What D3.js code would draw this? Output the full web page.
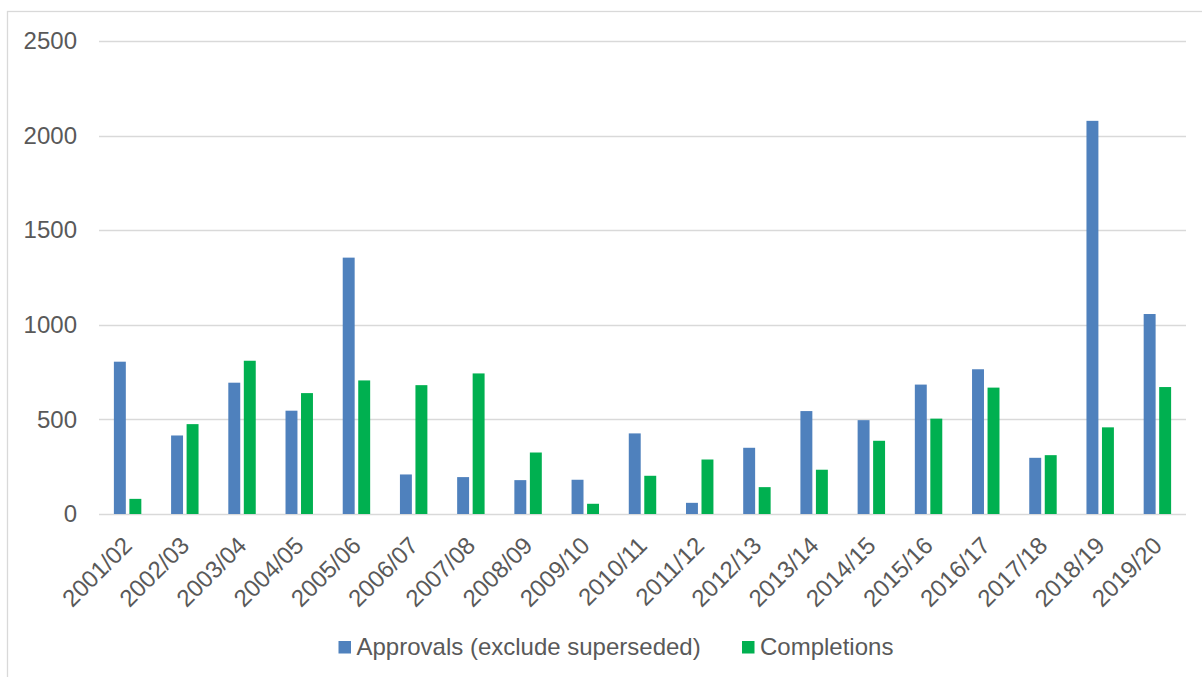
<!DOCTYPE html>
<html>
<head>
<meta charset="utf-8">
<script src="https://cdn.jsdelivr.net/npm/d3@7"></script>
<style>
  body { margin: 0; background: #fff; }
  svg { display: block; font-family: "Liberation Sans", Arial, sans-serif; }
</style>
</head>
<body>
<svg id="chart" width="1202" height="677"></svg>
<script>
let years = ["2001/02", "2002/03", "2003/04", "2004/05", "2005/06", "2006/07", "2007/08",
  "2008/09", "2009/10", "2010/11", "2011/12", "2012/13", "2013/14", "2014/15",
  "2015/16", "2016/17", "2017/18", "2018/19", "2019/20"];
let approvals = [805, 415, 694, 546, 1355, 209, 195, 179, 181, 426, 59, 350, 544, 496, 684, 765, 297, 2078, 1057];
let completions = [80, 475, 810, 639, 706, 681, 743, 325, 54, 202, 288, 142, 234, 387, 504, 668, 311, 458, 671];
let seriesNames = ["Approvals (exclude superseded)", "Completions"];
let yTicks = [0, 500, 1000, 1500, 2000, 2500];

let svg = d3.select("#chart"),
    margin = { top: 41, right: 16, bottom: 163, left: 99 },
    width = +svg.attr("width") - margin.left - margin.right,
    height = +svg.attr("height") - margin.top - margin.bottom;

// chart area border (runs off right and bottom edge like the original)
svg.append("rect")
    .attr("x", 7.5).attr("y", 11.5)
    .attr("width", 1300).attr("height", 800)
    .attr("fill", "none")
    .attr("stroke", "#d9d9d9")
    .attr("stroke-width", 1.3);

let g = svg.append("g").attr("transform", "translate(" + margin.left + "," + margin.top + ")");

let data = years.map(function(y, i) { return { year: y, values: [approvals[i], completions[i]] }; });

let x0 = d3.scaleBand().domain(years).range([0, width]);
let x1 = d3.scaleBand().domain([0, 1]).range([0, x0.bandwidth()])
    .paddingInner(0.23).paddingOuter(0.96);
let y = d3.scaleLinear().domain([0, 2500]).range([height, 0]);
let color = d3.scaleOrdinal().domain([0, 1]).range(["#4f81bd", "#00b050"]);

// gridlines
g.append("g")
  .selectAll("line")
  .data(yTicks)
  .enter().append("line")
    .attr("x1", 0).attr("x2", width)
    .attr("y1", function(d) { return Math.round(y(d)) + 0.5; })
    .attr("y2", function(d) { return Math.round(y(d)) + 0.5; })
    .attr("stroke", "#d9d9d9")
    .attr("stroke-width", function(d) { return d === 0 ? 1.6 : 1.3; });

// y labels
let yAxis = g.append("g")
    .call(d3.axisLeft(y).tickValues(yTicks).tickFormat(d3.format("d")).tickSize(0).tickPadding(22));
yAxis.select(".domain").remove();
yAxis.selectAll("text")
    .attr("fill", "#595959")
    .attr("font-size", 24)
    .attr("font-family", "Liberation Sans, Arial, sans-serif");

// bars
g.append("g")
  .selectAll("g")
  .data(data)
  .enter().append("g")
    .attr("transform", function(d) { return "translate(" + x0(d.year) + ",0)"; })
  .selectAll("rect")
  .data(function(d) { return d.values.map(function(v, k) { return { k: k, v: v }; }); })
  .enter().append("rect")
    .attr("x", function(d) { return x1(d.k); })
    .attr("y", function(d) { return y(d.v); })
    .attr("width", x1.bandwidth())
    .attr("height", function(d) { return y(0) - y(d.v); })
    .attr("fill", function(d) { return color(d.k); });

// x labels, rotated -45
let xAxis = g.append("g")
    .attr("transform", "translate(0," + height + ")")
    .call(d3.axisBottom(x0).tickSize(0).tickPadding(0));
xAxis.select(".domain").remove();
xAxis.selectAll("text")
    .attr("fill", "#595959")
    .attr("font-size", 24)
    .attr("font-family", "Liberation Sans, Arial, sans-serif")
    .attr("text-anchor", "end")
    .attr("y", 0)
    .attr("dy", "0.35em")
    .attr("transform", "translate(0,27) rotate(-45)");

// legend
let legendX = [338.5, 742];
let legend = svg.append("g")
  .selectAll("g")
  .data(seriesNames)
  .enter().append("g")
    .attr("transform", function(d, i) { return "translate(" + legendX[i] + ",641)"; });

legend.append("rect")
    .attr("width", 12.5)
    .attr("height", 12.5)
    .attr("fill", function(d, i) { return color(i); });

legend.append("text")
    .attr("x", 18)
    .attr("y", 13.5)
    .attr("fill", "#595959")
    .attr("font-size", 24)
    .text(function(d) { return d; });
</script>
</body>
</html>
